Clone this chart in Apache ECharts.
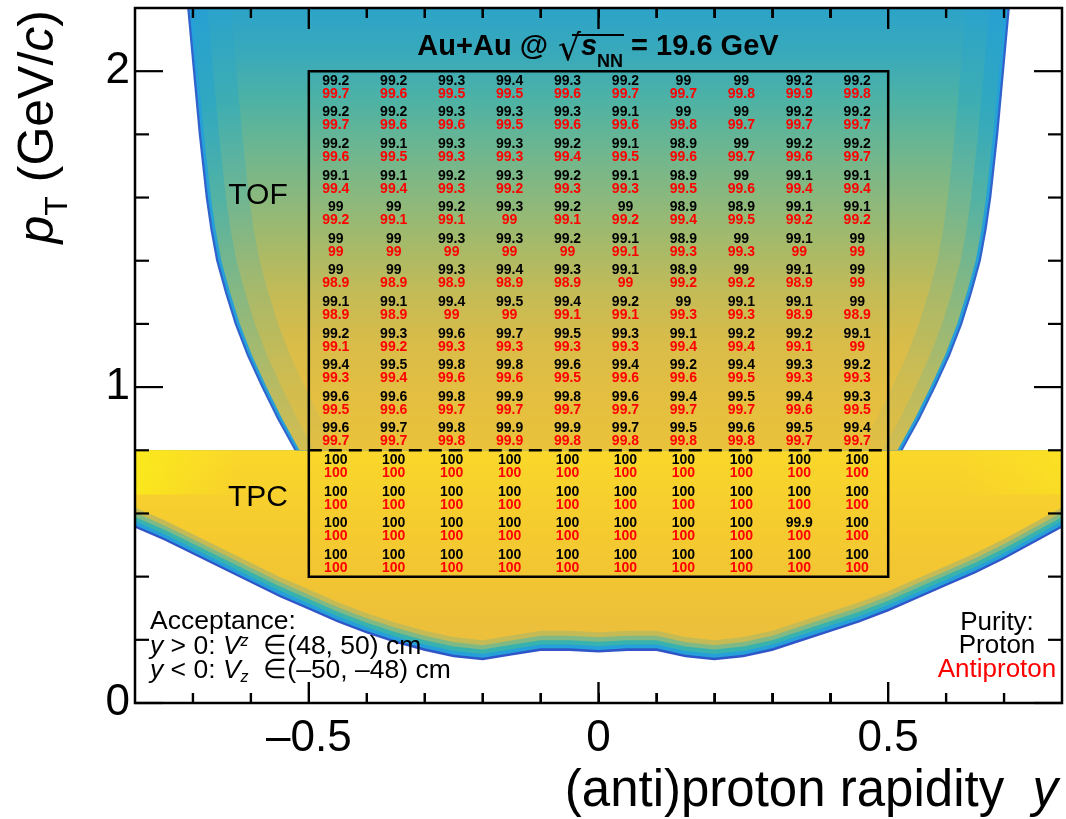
<!DOCTYPE html>
<html><head><meta charset="utf-8">
<script src="https://cdn.jsdelivr.net/npm/echarts@6/dist/echarts.min.js"></script>
<style>html,body{margin:0;padding:0;background:#fff}#c{width:1066px;height:819px}</style>
</head><body><div id="c"></div>
<script>
// ---------- data ----------
const xBinLow = [-0.5,-0.4,-0.3,-0.2,-0.1,0,0.1,0.2,0.3,0.4];
const ptBinLow = [1.9,1.8,1.7,1.6,1.5,1.4,1.3,1.2,1.1,1.0,0.9,0.8,0.7,0.6,0.5,0.4];
const binWidthY = 0.1, binWidthPt = 0.1;
const protonPurity = [
  [99.2,99.2,99.3,99.4,99.3,99.2,99,99,99.2,99.2],
  [99.2,99.2,99.3,99.3,99.3,99.1,99,99,99.2,99.2],
  [99.2,99.1,99.3,99.3,99.2,99.1,98.9,99,99.2,99.2],
  [99.1,99.1,99.2,99.3,99.2,99.1,98.9,99,99.1,99.1],
  [99,99,99.2,99.3,99.2,99,98.9,98.9,99.1,99.1],
  [99,99,99.3,99.3,99.2,99.1,98.9,99,99.1,99],
  [99,99,99.3,99.4,99.3,99.1,98.9,99,99.1,99],
  [99.1,99.1,99.4,99.5,99.4,99.2,99,99.1,99.1,99],
  [99.2,99.3,99.6,99.7,99.5,99.3,99.1,99.2,99.2,99.1],
  [99.4,99.5,99.8,99.8,99.6,99.4,99.2,99.4,99.3,99.2],
  [99.6,99.6,99.8,99.9,99.8,99.6,99.4,99.5,99.4,99.3],
  [99.6,99.7,99.8,99.9,99.9,99.7,99.5,99.6,99.5,99.4],
  [100,100,100,100,100,100,100,100,100,100],
  [100,100,100,100,100,100,100,100,100,100],
  [100,100,100,100,100,100,100,100,99.9,100],
  [100,100,100,100,100,100,100,100,100,100]
];
const antiprotonPurity = [
  [99.7,99.6,99.5,99.5,99.6,99.7,99.7,99.8,99.9,99.8],
  [99.7,99.6,99.6,99.5,99.6,99.6,99.8,99.7,99.7,99.7],
  [99.6,99.5,99.3,99.3,99.4,99.5,99.6,99.7,99.6,99.7],
  [99.4,99.4,99.3,99.2,99.3,99.3,99.5,99.6,99.4,99.4],
  [99.2,99.1,99.1,99,99.1,99.2,99.4,99.5,99.2,99.2],
  [99,99,99,99,99,99.1,99.3,99.3,99,99],
  [98.9,98.9,98.9,98.9,98.9,99,99.2,99.2,98.9,99],
  [98.9,98.9,99,99,99.1,99.1,99.3,99.3,98.9,98.9],
  [99.1,99.2,99.3,99.3,99.3,99.3,99.4,99.4,99.1,99],
  [99.3,99.4,99.6,99.6,99.5,99.6,99.6,99.5,99.3,99.3],
  [99.5,99.6,99.7,99.7,99.7,99.7,99.7,99.7,99.6,99.5],
  [99.7,99.7,99.8,99.9,99.8,99.8,99.8,99.8,99.7,99.7],
  [100,100,100,100,100,100,100,100,100,100],
  [100,100,100,100,100,100,100,100,100,100],
  [100,100,100,100,100,100,100,100,100,100],
  [100,100,100,100,100,100,100,100,100,100]
];
// acceptance outline (TOF region: |y| edge vs pT)
const tofEdgePt = [0.8,0.9,1.0,1.1,1.2,1.3,1.4,1.5,1.6,1.8,2.0,2.2];
const tofEdgeY  = [0.525,0.555,0.582,0.607,0.628,0.645,0.66,0.67,0.678,0.69,0.70,0.71];
// acceptance outline (TPC region: lower pT edge vs y)
const lowEdgeY  = [-0.8,-0.75,-0.7,-0.65,-0.6,-0.55,-0.5,-0.45,-0.4,-0.35,-0.3,-0.25,-0.2,-0.15,-0.1,-0.05,0,0.05,0.1,0.15,0.2,0.25,0.3,0.35,0.4,0.45,0.5,0.55,0.6,0.65,0.7,0.75,0.8];
const lowEdgePt = [0.555,0.515,0.47,0.425,0.38,0.335,0.295,0.255,0.22,0.19,0.165,0.145,0.135,0.15,0.165,0.165,0.16,0.165,0.165,0.145,0.135,0.145,0.165,0.195,0.225,0.255,0.29,0.33,0.37,0.41,0.455,0.505,0.555];
const tpcTofSwitchPt = 0.8;
const purityBoxY = [-0.5, 0.5];
const purityBoxPt = [0.4, 2.0];
const xMajorTicks = [-0.5, 0, 0.5];
const xMinorTicks = [-0.7,-0.6,-0.4,-0.3,-0.2,-0.1,0.1,0.2,0.3,0.4,0.6,0.7];
const yMajorTicks = [0, 1, 2];
const yMinorTicks = [0.2,0.4,0.6,0.8,1.2,1.4,1.6,1.8];
const xRange = [-0.8, 0.8], yRange = [0, 2.2];

// ---------- styling ----------
const FONT = "'Liberation Sans', Arial, Helvetica, sans-serif";
const tofLayers = [
  {inset:0, fill:'#3063cc'},
  {inset:0.004, fill:'#25a0d8'},
  {inset:0.009, stops:[[2.2,'#27a0d2'],[1.9,'#30a8c0'],[1.6,'#52b2a4'],[1.3,'#86b882'],[1.0,'#b8bb62'],[0.8,'#d4bd50']]},
  {inset:0.035, stops:[[2.2,'#2aa2cc'],[1.9,'#3eaeb2'],[1.6,'#70b692'],[1.3,'#a8b96a'],[1.0,'#d2bc4e'],[0.8,'#e2bf42']]},
  {inset:0.075, stops:[[2.2,'#2ca3c8'],[2.05,'#3aaaba'],[1.9,'#4fb2a3'],[1.75,'#6db690'],[1.6,'#8ab87d'],[1.45,'#a6ba69'],[1.3,'#c3bb57'],[1.15,'#d8bc4a'],[1.0,'#e2be42'],[0.8,'#eac23a']]}
];
const lowLayers = [
  {shift:0, fill:'#2f55c8'},
  {shift:0.008, fill:'#25a0d8'},
  {shift:0.02, fill:'#38b2ae'},
  {shift:0.034, fill:'#80b984'},
  {shift:0.048, fill:'#c4bb56'},
  {shift:0.064, stops:[[0.8,'#fad82a'],[0.6,'#f6cd2e'],[0.4,'#f2c533'],[0.25,'#ecc03a']]}
];
const sheenPt = [0.66, 0.8];
const sheenStops = [[-0.8,'rgba(252,242,20,0.7)'],[-0.62,'rgba(252,236,24,0)'],[0.62,'rgba(252,236,24,0)'],[0.8,'rgba(252,238,24,0.4)']];

function grad(api, stops){
  const y0 = api.coord([0, yRange[1]])[1], y1 = api.coord([0, yRange[0]])[1];
  const cs = stops.map(s => ({offset: (api.coord([0, s[0]])[1] - y0) / (y1 - y0), color: s[1]}))
                  .sort((a,b)=>a.offset-b.offset);
  return new echarts.graphic.LinearGradient(0, y0, 0, y1, cs, true);
}
function hgrad(api, stops){
  const x0 = api.coord([xRange[0], 0])[0], x1 = api.coord([xRange[1], 0])[0];
  const cs = stops.map(s => ({offset: (api.coord([s[0], 0])[0] - x0) / (x1 - x0), color: s[1]}));
  return new echarts.graphic.LinearGradient(x0, 0, x1, 0, cs, true);
}

function renderBackground(params, api){
  const children = [];
  lowLayers.forEach(L => {
    const pts = [api.coord([lowEdgeY[0], tpcTofSwitchPt])];
    for (let i = 0; i < lowEdgeY.length; i++)
      pts.push(api.coord([lowEdgeY[i], Math.min(lowEdgePt[i] + L.shift, tpcTofSwitchPt)]));
    pts.push(api.coord([lowEdgeY[lowEdgeY.length-1], tpcTofSwitchPt]));
    children.push({type:'polygon', shape:{points:pts}, style:{fill: L.stops ? grad(api, L.stops) : L.fill}});
  });
  const s0 = api.coord([xRange[0], sheenPt[1]]), s1 = api.coord([xRange[1], sheenPt[0]]);
  children.push({type:'rect', shape:{x:s0[0], y:s0[1], width:s1[0]-s0[0], height:s1[1]-s0[1]}, style:{fill:hgrad(api, sheenStops)}});
  tofLayers.forEach(L => {
    const pts = [];
    for (let i = 0; i < tofEdgePt.length; i++) pts.push(api.coord([-(tofEdgeY[i]-L.inset), tofEdgePt[i]]));
    for (let i = tofEdgePt.length-1; i >= 0; i--) pts.push(api.coord([tofEdgeY[i]-L.inset, tofEdgePt[i]]));
    children.push({type:'polygon', shape:{points:pts}, style:{fill: L.stops ? grad(api, L.stops) : L.fill}});
  });
  return {type:'group', children};
}

// purity box, TPC/TOF divider and the x-axis tick marks (as thin polygons)
function renderBox(params, api){
  const p0 = api.coord([purityBoxY[0], purityBoxPt[1]]);
  const p1 = api.coord([purityBoxY[1], purityBoxPt[0]]);
  const d0 = api.coord([purityBoxY[0], tpcTofSwitchPt]);
  const d1 = api.coord([purityBoxY[1], tpcTofSwitchPt]);
  const ch = [
    {type:'rect', shape:{x:p0[0], y:p0[1], width:p1[0]-p0[0], height:p1[1]-p0[1]}, style:{fill:'none', stroke:'#000', lineWidth:2.5}},
    {type:'line', shape:{x1:d0[0], y1:d0[1], x2:d1[0], y2:d1[1]}, style:{stroke:'#000', lineWidth:2.5, lineDash:[13,7]}}
  ];
  const hw = 1.2;
  const vt = (x, ya, yb) => ch.push({type:'polygon', shape:{points:[[x-hw,ya],[x+hw,ya],[x+hw,yb],[x-hw,yb]]}, style:{fill:'#000'}});
  [[xMajorTicks,21],[xMinorTicks,10]].forEach(([vals,len]) => vals.forEach(v => {
    const b = api.coord([v, yRange[0]]), t = api.coord([v, yRange[1]]);
    vt(b[0], b[1]-len, b[1]); vt(t[0], t[1], t[1]+len);
  }));
  return {type:'group', children:ch};
}

function cellData(table){
  const out = [];
  ptBinLow.forEach((pt, r) => xBinLow.forEach((x, c) => out.push([x + binWidthY/2, pt + binWidthPt/2, table[r][c]])));
  return out;
}
function cellText(color, dy){
  return function(params, api){
    const p = api.coord([api.value(0), api.value(1)]);
    return {type:'text', x:p[0]-2, y:p[1]+dy, style:{text:String(api.value(2)), fill:color, font:"bold 14px " + FONT, align:'center', verticalAlign:'middle'}};
  };
}

const baseGraphic = [
    {type:'rect', z:100, shape:{x:135, y:8, width:927, height:695}, style:{fill:'none', stroke:'#000', lineWidth:2.5}},
    {type:'text', z:100, x:598, y:52, style:{text:'{b|Au+Au @ }{sq|\u221a}{bi|s}{sub|NN}{b| = 19.6 GeV}', align:'center', verticalAlign:'middle',
      rich:{b:{fontFamily:FONT, fontWeight:'bold', fontSize:29, lineHeight:30, verticalAlign:'top', fill:'#000'},
            sq:{fontFamily:"'DejaVu Sans'", fontSize:36, lineHeight:30, verticalAlign:'top', fill:'#000', padding:[0,0,0,2]},
            bi:{fontFamily:FONT, fontWeight:'bold', fontStyle:'italic', fontSize:29, lineHeight:30, verticalAlign:'top', fill:'#000'},
            sub:{fontFamily:FONT, fontWeight:'bold', fontSize:18, padding:[21,0,0,0], verticalAlign:'top', fill:'#000'}}}},
    {type:'line', z:100, shape:{x1:572, y1:35, x2:624, y2:35}, style:{stroke:'#000', lineWidth:2}},
    {type:'text', z:100, x:258, y:196, style:{text:'TOF', font:'30px ' + FONT, fill:'#000', align:'center', verticalAlign:'middle'}},
    {type:'text', z:100, x:258, y:498, style:{text:'TPC', font:'30px ' + FONT, fill:'#000', align:'center', verticalAlign:'middle'}},
    {type:'text', z:100, x:150, y:622, style:{text:'Acceptance:', font:'26.5px ' + FONT, fill:'#000', align:'left', verticalAlign:'middle'}},
    {type:'text', z:100, x:150, y:647, style:{text:'{i|y} > 0: {i|V}{sup|z}  \u2208(48, 50) cm', align:'left', verticalAlign:'middle',
      rich:{i:{fontFamily:FONT, fontSize:26.5, fontStyle:'italic', fill:'#000'},
            sup:{fontFamily:FONT, fontSize:16, fontStyle:'italic', fill:'#000', padding:[0,0,10,0]}}, font:'26.5px ' + FONT, fill:'#000'}},
    {type:'text', z:100, x:150, y:671, style:{text:'{i|y} < 0: {i|V}{sub|z}  \u2208(\u201350, \u201348) cm', align:'left', verticalAlign:'middle',
      rich:{i:{fontFamily:FONT, fontSize:26.5, fontStyle:'italic', fill:'#000'},
            sub:{fontFamily:FONT, fontSize:16, fontStyle:'italic', fill:'#000', padding:[14,0,0,0]}}, font:'26.5px ' + FONT, fill:'#000'}},
    {type:'text', z:100, x:997, y:623, style:{text:'Purity:', font:'26px ' + FONT, fill:'#000', align:'center', verticalAlign:'middle'}},
    {type:'text', z:100, x:997, y:646, style:{text:'Proton', font:'26px ' + FONT, fill:'#000', align:'center', verticalAlign:'middle'}},
    {type:'text', z:100, x:997, y:670, style:{text:'Antiproton', font:'26px ' + FONT, fill:'#ff0000', align:'center', verticalAlign:'middle'}},
    {type:'text', z:100, x:1058, y:792, style:{text:'(anti)proton rapidity  {i|y}', font:'51px ' + FONT, fill:'#000', align:'right', verticalAlign:'middle',
      rich:{i:{fontFamily:FONT, fontSize:51, fontStyle:'italic', fill:'#000'}}}},
    {type:'text', z:100, x:44, y:10, rotation:Math.PI/2, style:{text:'{i|p}{s|T}{n| (GeV/}{i|c}{n|)}', align:'right', verticalAlign:'middle',
      rich:{i:{fontFamily:FONT, fontSize:50, fontStyle:'italic', lineHeight:50, verticalAlign:'top', fill:'#000'},
            n:{fontFamily:FONT, fontSize:50, lineHeight:50, verticalAlign:'top', fill:'#000'},
            s:{fontFamily:FONT, fontSize:32, padding:[28,0,0,0], verticalAlign:'top', fill:'#000'}}}}
];

const minorX = (pos) => ({type:'value', min:xRange[0], max:xRange[1], interval:0.1, position:pos, z:10,
  axisLine:{show:false, onZero:false}, splitLine:{show:false}, axisLabel:{show:false},
  axisTick:{show:true, inside:true, length:10, lineStyle:{color:'#000', width:2}}});

const chart = echarts.init(document.getElementById('c'), null, {renderer:'canvas'});
chart.setOption({
  animation:false,
  backgroundColor:'#fff',
  grid:{left:135, top:8, width:927, height:695, show:false},
  xAxis:[{type:'value', min:xRange[0], max:xRange[1], position:'bottom',
    axisLine:{show:false, onZero:false}, splitLine:{show:false}, axisTick:{show:false},
    axisLabel:{show:true, customValues:xMajorTicks.slice(), color:'#000', fontFamily:FONT, fontSize:44, margin:14,
      formatter: v => (v < 0 ? '\u2013' + Math.abs(v) : String(v))}},
    minorX('bottom'), minorX('top')],
  yAxis:{type:'value', min:yRange[0], max:yRange[1], position:'left',
    axisLine:{show:false, onZero:false}, splitLine:{show:false}, axisTick:{show:false},
    axisLabel:{show:true, customValues:yMajorTicks.slice(), color:'#000', fontFamily:FONT, fontSize:44, margin:5,
      formatter: v => String(v)}},
  series:[
    {type:'custom', z:1, silent:true, clip:true, data:[[0,0]], renderItem:renderBackground},
    {type:'custom', z:5, silent:true, clip:false, data:[[0,0]], renderItem:renderBox},
    {type:'custom', z:4, silent:true, data:cellData(protonPurity), renderItem:cellText('#000', -6)},
    {type:'custom', z:4, silent:true, data:cellData(antiprotonPurity), renderItem:cellText('#ff0000', 7)}
  ],
  graphic: baseGraphic
});

// y-axis ticks placed through the axis scale
const tickGraphic = [];
const X = v => chart.convertToPixel({xAxisIndex:0}, v);
const Y = v => chart.convertToPixel({yAxisIndex:0}, v);
const gx0 = X(xRange[0]), gx1 = X(xRange[1]);
const tk = (x1,y1,x2,y2) => tickGraphic.push({type:'line', z:90, shape:{x1,y1,x2,y2}, style:{stroke:'#000', lineWidth:2.2}});
[[yMajorTicks,28],[yMinorTicks,14]].forEach(([vals,len]) => vals.forEach(v => {
  const py = Y(v); tk(gx0, py, gx0 + len, py); tk(gx1, py, gx1 - len, py);
}));
chart.setOption({graphic: baseGraphic.concat(tickGraphic)});
</script></body></html>
